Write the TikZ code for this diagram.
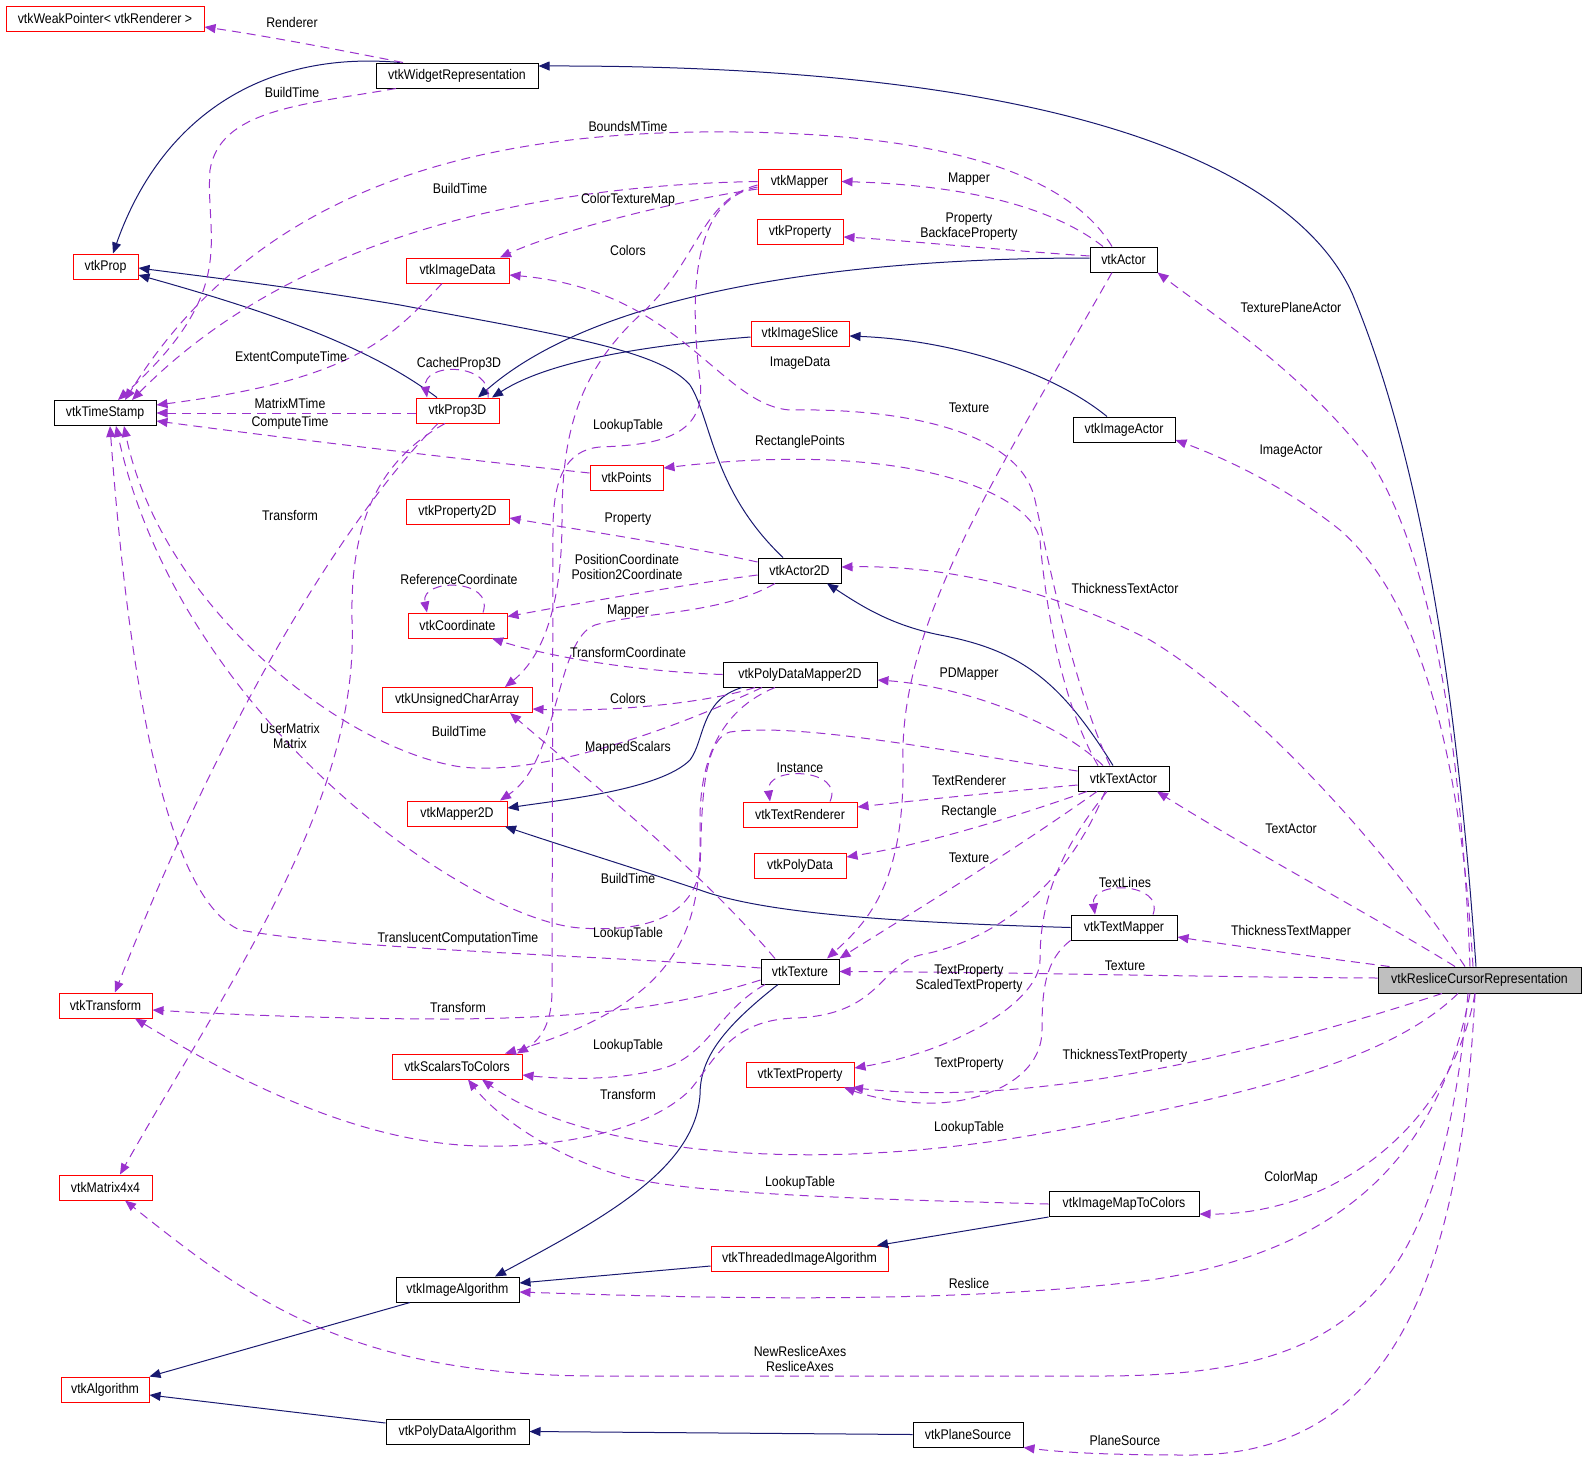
\documentclass[tikz,border=0pt]{standalone}
\usepackage{fontspec}
\setmainfont{Liberation Sans}[FakeStretch=0.88]
\usetikzlibrary{arrows.meta}
\definecolor{navy}{HTML}{191970}
\definecolor{usecol}{HTML}{9A32CD}
\definecolor{nodegray}{HTML}{BFBFBF}
\newcommand\dxfont{\fontsize{14pt}{15pt}\selectfont}
\begin{document}
\begin{tikzpicture}[x=1pt,y=-1pt,
  every node/.style={font=\dxfont},
  cls/.style={draw=black, fill=white, line width=1pt, inner sep=0pt, minimum height=25pt},
  redcls/.style={cls, draw=red},
  graycls/.style={cls, fill=nodegray, minimum height=26pt},
  inh/.style={draw=navy, line width=1pt, -{Triangle[length=11pt,width=9pt]}},
  use/.style={draw=usecol, line width=1pt, dash pattern=on 9pt off 6pt, -{Triangle[length=11pt,width=9pt]}},
  lbl/.style={inner sep=0pt, align=center}]
\useasboundingbox (0,0) rectangle (1587,1462);
% nodes
\node[redcls, minimum width=198pt] (wp) at (105,18.5) {vtkWeakPointer< vtkRenderer >};
\node[cls, minimum width=162pt] (wr) at (457,75.5) {vtkWidgetRepresentation};
\node[redcls, minimum width=65pt] (prop) at (105.5,266.5) {vtkProp};
\node[cls, minimum width=102pt] (ts) at (105,413) {vtkTimeStamp};
\node[redcls, minimum width=103pt] (imgdata) at (457.5,270.5) {vtkImageData};
\node[redcls, minimum width=83pt] (prop3d) at (457.5,410.5) {vtkProp3D};
\node[redcls, minimum width=83pt] (mapper) at (799.5,181.5) {vtkMapper};
\node[redcls, minimum width=86pt] (property) at (800,231.5) {vtkProperty};
\node[redcls, minimum width=98pt] (imgslice) at (800,333.5) {vtkImageSlice};
\node[redcls, minimum width=73pt] (points) at (626.5,477.5) {vtkPoints};
\node[cls, minimum width=67pt] (actor) at (1123.5,259.5) {vtkActor};
\node[cls, minimum width=102pt] (imgactor) at (1124,429.5) {vtkImageActor};
\node[redcls, minimum width=103pt] (prop2d) at (457.5,512) {vtkProperty2D};
\node[redcls, minimum width=99pt] (coord) at (457.5,625.5) {vtkCoordinate};
\node[cls, minimum width=83pt] (actor2d) at (799.5,570.5) {vtkActor2D};
\node[redcls, minimum width=150pt] (uca) at (457,700) {vtkUnsignedCharArray};
\node[cls, minimum width=154pt] (pdm2d) at (800,674.5) {vtkPolyDataMapper2D};
\node[redcls, minimum width=100pt] (mapper2d) at (457,813.5) {vtkMapper2D};
\node[redcls, minimum width=114pt] (textrend) at (800,814.5) {vtkTextRenderer};
\node[redcls, minimum width=92pt] (polydata) at (800,865.5) {vtkPolyData};
\node[cls, minimum width=91pt] (textactor) at (1123.5,778.5) {vtkTextActor};
\node[cls, minimum width=106pt] (textmapper) at (1124,927.5) {vtkTextMapper};
\node[cls, minimum width=78pt] (texture) at (800,971.5) {vtkTexture};
\node[graycls, minimum width=203pt] (reslice) at (1479.5,980) {vtkResliceCursorRepresentation};
\node[redcls, minimum width=93pt] (transform) at (105.5,1005.5) {vtkTransform};
\node[redcls, minimum width=93pt] (matrix) at (105.5,1187.5) {vtkMatrix4x4};
\node[redcls, minimum width=88pt] (algo) at (105,1389.5) {vtkAlgorithm};
\node[redcls, minimum width=130pt] (s2c) at (457,1066.5) {vtkScalarsToColors};
\node[redcls, minimum width=108pt] (textprop) at (800,1074.5) {vtkTextProperty};
\node[cls, minimum width=150pt] (imtc) at (1124,1204) {vtkImageMapToColors};
\node[redcls, minimum width=177pt] (threaded) at (799.5,1258.5) {vtkThreadedImageAlgorithm};
\node[cls, minimum width=123pt] (imgalgo) at (457.5,1289.5) {vtkImageAlgorithm};
\node[cls, minimum width=143pt] (pdalgo) at (457.5,1431.5) {vtkPolyDataAlgorithm};
\node[cls, minimum width=110pt] (planesrc) at (968,1434.5) {vtkPlaneSource};
% inheritance edges
\draw[inh] ([xshift=-57pt]wr.north) .. controls (260,50) and (160,120) .. ([xshift=7.5pt]prop.north);
\draw[inh] ([xshift=-3.5pt]reslice.north) .. controls (1460,740) and (1430,480) .. (1352,293) .. controls (1300,180) and (1100,65) .. ([yshift=9.5pt]wr.east);
\draw[inh] ([xshift=-20.5pt]prop3d.north) .. controls (380,355) and (300,320) .. ([yshift=-8.5pt]prop.east);
\draw[inh] ([xshift=-16.5pt]actor2d.north) .. controls (712,490) and (712,420) .. (690,385) .. controls (660,350) and (560,335) .. (400,305) .. controls (300,288) and (200,276) .. ([yshift=-1.5pt]prop.east);
\draw[inh] ([yshift=1.5pt]actor.west) .. controls (850,258) and (600,290) .. ([xshift=20.5pt]prop3d.north);
\draw[inh] ([yshift=-3.5pt]imgslice.west) .. controls (650,345) and (550,360) .. ([xshift=34.5pt]prop3d.north);
\draw[inh] ([xshift=-17pt]imgactor.north) .. controls (1050,370) and (950,340) .. ([yshift=-2.5pt]imgslice.east);
\draw[inh] ([xshift=-10.5pt]textactor.north) .. controls (1060,680) and (1020,650) .. (940,635) .. controls (890,625) and (860,605) .. ([xshift=27.5pt]actor2d.south);
\draw[inh] ([xshift=-58pt]pdm2d.south) .. controls (700,700) and (705,740) .. (690,760) .. controls (660,790) and (560,800) .. ([yshift=5.5pt]mapper2d.east);
\draw[inh] (textmapper.west) .. controls (880,922) and (760,912) .. (700,890) .. controls (640,870) and (560,845) .. ([xshift=48pt]mapper2d.south);
\draw[inh] ([xshift=-22pt]texture.south) .. controls (720,1030) and (700,1060) .. (700,1095) .. controls (695,1170) and (600,1220) .. ([xshift=37.5pt]imgalgo.north);
\draw[inh] ([yshift=-7.5pt]threaded.west) -- ([yshift=6.5pt]imgalgo.east);
\draw[inh] (imtc.south west) -- ([xshift=77.5pt]threaded.north);
\draw[inh] ([xshift=-47.5pt]imgalgo.south) -- (algo.north east);
\draw[inh] ([yshift=8.5pt]pdalgo.west) -- ([yshift=-5.5pt]algo.east);
\draw[inh] (planesrc.west) -- (pdalgo.east);
% usage edges
\draw[use] ([xshift=-54pt]wr.north) .. controls (330,48) and (260,35) .. ([yshift=-8.5pt]wp.east);
\draw[use] ([xshift=-61pt]wr.south) .. controls (300,105) and (220,110) .. (210,170) .. controls (205,240) and (240,290) .. ([xshift=13pt]ts.north);
\draw[use] ([xshift=-11.5pt]actor.north) .. controls (1060,160) and (900,130) .. (700,132) .. controls (450,135) and (250,200) .. ([xshift=20pt]ts.north);
\draw[use] (mapper.west) .. controls (550,185) and (300,230) .. ([xshift=27pt]ts.north);
\draw[use] ([yshift=-7.5pt]mapper.west) .. controls (680,200) and (560,230) .. ([xshift=42.5pt]imgdata.north);
\draw[use] ([yshift=-3.5pt]mapper.west) .. controls (700,200) and (700,260) .. (640,315) .. controls (575,375) and (562,440) .. (562,520) .. controls (562,600) and (545,655) .. ([xshift=48pt]uca.north);
\draw[use] ([yshift=-5.5pt]mapper.west) .. controls (690,200) and (690,300) .. (700,380) .. controls (708,440) and (650,445) .. (600,447) .. controls (565,450) and (553,480) .. (553,530) -- (552,990) .. controls (552,1025) and (540,1040) .. ([xshift=60pt]s2c.north);
\draw[use] ([xshift=-20.5pt]actor.north) .. controls (1050,205) and (960,185) .. (mapper.east);
\draw[use] ([yshift=3.5pt]actor.west) .. controls (1000,250) and (900,240) .. ([yshift=-5.5pt]property.east);
\draw[use] ([xshift=-11.5pt]actor.south) .. controls (1000,470) and (900,620) .. (903,760) .. controls (905,880) and (870,920) .. ([xshift=27pt]texture.north);
\draw[use] ([xshift=-15.5pt]imgdata.south) .. controls (390,340) and (350,380) .. ([yshift=8pt]ts.east);
\draw[use] ([yshift=-2.5pt]prop3d.west) -- (ts.east);
\draw[use] ([yshift=4.5pt]points.west) .. controls (450,458) and (300,440) .. ([yshift=-8pt]ts.east);
\draw[use] ([xshift=-19.5pt]prop3d.south) .. controls (380,480) and (250,650) .. ([xshift=9.5pt]transform.north);
\draw[use] ([xshift=-12.5pt]prop3d.south) .. controls (380,460) and (350,520) .. (352,620) .. controls (360,800) and (230,980) .. ([xshift=14.5pt]matrix.north);
\draw[use] ([xshift=30.5pt]prop3d.north) .. controls (492,362) and (422,362) .. ([xshift=-30.5pt]prop3d.north);
\draw[use] ([yshift=8.5pt]actor2d.west) .. controls (680,545) and (580,530) .. ([yshift=-6pt]prop2d.east);
\draw[use] ([yshift=-4.5pt]actor2d.west) .. controls (680,585) and (570,605) .. ([yshift=9pt]coord.east);
\draw[use] ([xshift=25.5pt]coord.north) .. controls (495,578) and (420,578) .. ([xshift=-30.5pt]coord.north);
\draw[use] ([xshift=-24.5pt]actor2d.south) .. controls (720,615) and (640,612) .. (595,625) .. controls (555,640) and (560,760) .. ([xshift=43pt]mapper2d.north);
\draw[use] (pdm2d.west) .. controls (650,672) and (560,660) .. ([xshift=34.5pt]coord.south);
\draw[use] ([xshift=-45pt]pdm2d.south) .. controls (700,705) and (600,712) .. ([yshift=-9pt]uca.east);
\draw[use] ([xshift=-38pt]pdm2d.south) .. controls (650,740) and (520,780) .. (450,765) .. controls (330,740) and (160,600) .. ([xshift=19pt]ts.south);
\draw[use] ([xshift=-25pt]pdm2d.south) .. controls (720,710) and (700,760) .. (700,820) .. controls (702,920) and (690,1000) .. ([xshift=48pt]s2c.north);
\draw[use] ([xshift=-25pt]texture.north) .. controls (700,870) and (600,790) .. ([xshift=53pt]uca.south);
\draw[use] ([xshift=-20.5pt]textactor.north) .. controls (1050,715) and (950,685) .. ([yshift=-5.5pt]pdm2d.east);
\draw[use] ([xshift=-25.5pt]textactor.north) .. controls (1060,700) and (1045,600) .. (1040,540) .. controls (1030,490) and (900,440) .. ([yshift=9.5pt]points.east);
\draw[use] ([xshift=-13.5pt]textactor.north) .. controls (1075,690) and (1050,570) .. (1035,500) .. controls (1020,430) and (900,408) .. (790,410) .. controls (720,405) and (680,290) .. ([yshift=-4.5pt]imgdata.east);
\draw[use] ([yshift=-6.5pt]textactor.west) .. controls (1000,792) and (920,800) .. ([yshift=7.5pt]textrend.east);
\draw[use] ([xshift=30pt]textrend.north) .. controls (845,768) and (765,765) .. ([xshift=-30pt]textrend.north);
\draw[use] ([xshift=-36.5pt]textactor.south) .. controls (1000,822) and (920,845) .. ([yshift=8.5pt]polydata.east);
\draw[use] ([xshift=-26.5pt]textactor.south) .. controls (1000,860) and (900,920) .. (texture.north east);
\draw[use] ([yshift=7.5pt]textactor.west) .. controls (950,752) and (800,722) .. (730,732) .. controls (700,740) and (702,820) .. (700,870) .. controls (690,920) and (640,932) .. (580,928) .. controls (470,920) and (180,720) .. ([xshift=11pt]ts.south);
\draw[use] ([yshift=3.5pt]texture.west) .. controls (600,955) and (350,950) .. (240,930) .. controls (170,900) and (130,700) .. ([xshift=5pt]ts.south);
\draw[use] ([xshift=29pt]textmapper.north) .. controls (1165,882) and (1090,880) .. ([xshift=-29pt]textmapper.north);
\draw[use] ([xshift=-16.5pt]textactor.south) .. controls (1060,850) and (1040,900) .. (1040,960) .. controls (1040,1000) and (960,1050) .. ([yshift=6.5pt]textprop.east);
\draw[use] (textmapper.south west) .. controls (1045,960) and (1042,990) .. (1042,1030) .. controls (1042,1080) and (980,1105) .. (923,1103) .. controls (890,1102) and (865,1095) .. ([xshift=44pt]textprop.south);
\draw[use] ([xshift=-18.5pt]textactor.south) .. controls (1070,880) and (1000,940) .. (920,955) .. controls (880,965) and (880,1015) .. (795,1018) .. controls (730,1020) and (715,1060) .. (690,1090) .. controls (650,1130) and (560,1148) .. (480,1146) .. controls (350,1143) and (220,1070) .. ([xshift=29.5pt]transform.south);
\draw[use] ([yshift=-8.5pt]texture.west) .. controls (680,1005) and (600,1018) .. (450,1019) .. controls (330,1019) and (220,1014) .. ([yshift=-4.5pt]transform.east);
\draw[use] ([xshift=-35pt]texture.south) .. controls (720,1010) and (710,1050) .. (670,1066) .. controls (630,1080) and (570,1080) .. ([yshift=-8.5pt]s2c.east);
\draw[use] ([xshift=-9.5pt]reslice.north) .. controls (1462,760) and (1435,560) .. (1370,460) .. controls (1300,370) and (1220,320) .. (actor.south east);
\draw[use] ([xshift=-6.5pt]reslice.north) .. controls (1460,750) and (1420,600) .. (1340,530) .. controls (1290,490) and (1230,460) .. ([yshift=-10.5pt]imgactor.east);
\draw[use] ([xshift=-14.5pt]reslice.north) .. controls (1380,840) and (1250,700) .. (1150,640) .. controls (1050,590) and (950,565) .. ([yshift=3.5pt]actor2d.east);
\draw[use] ([xshift=-24.5pt]reslice.north) .. controls (1380,920) and (1250,850) .. ([xshift=33.5pt]textactor.south);
\draw[use] ([xshift=12pt]reslice.north west) .. controls (1300,955) and (1230,945) .. ([yshift=-9.5pt]textmapper.east);
\draw[use] ([yshift=2pt]reslice.west) .. controls (1200,977) and (1000,972) .. (texture.east);
\draw[use] ([xshift=-37.5pt]reslice.south) .. controls (1300,1040) and (1050,1110) .. ([xshift=52pt]textprop.south);
\draw[use] ([xshift=-21.5pt]reslice.south) .. controls (1390,1060) and (1250,1095) .. (1050,1132) .. controls (800,1178) and (580,1150) .. ([xshift=25pt]s2c.south);
\draw[use] (imtc.west) .. controls (900,1200) and (700,1195) .. (630,1178) .. controls (560,1160) and (500,1120) .. ([xshift=11pt]s2c.south);
\draw[use] ([xshift=-4.5pt]reslice.south) .. controls (1450,1130) and (1330,1215) .. ([yshift=-10pt]imtc.east);
\draw[use] ([xshift=-9.5pt]reslice.south) .. controls (1440,1150) and (1350,1250) .. (1150,1280) .. controls (950,1305) and (700,1298) .. ([yshift=-2.5pt]imgalgo.east);
\draw[use] ([xshift=-11.5pt]reslice.south) .. controls (1440,1300) and (1350,1376) .. (1100,1376) -- (600,1376) .. controls (350,1376) and (250,1300) .. ([xshift=19.5pt]matrix.south);
\draw[use] ([xshift=-4.5pt]reslice.south) .. controls (1460,1300) and (1380,1455) .. (1190,1455) .. controls (1100,1455) and (1060,1452) .. (planesrc.south east);
% labels
\node[lbl] (l01) at (292,22) {Renderer};
\node[lbl] (l02) at (292,92) {BuildTime};
\node[lbl] (l03) at (628,126) {BoundsMTime};
\node[lbl] (l04) at (460,188) {BuildTime};
\node[lbl] (l05) at (628,200) {ColorTextureMap};
\node[lbl] (l06) at (969,179) {Mapper};
\node[lbl] (l07) at (969,227) {Property\\BackfaceProperty};
\node[lbl] (l08) at (628,250) {Colors};
\node[lbl] (l09) at (1291,307) {TexturePlaneActor};
\node[lbl] (l10) at (291,358) {ExtentComputeTime};
\node[lbl] (l11) at (459,364) {CachedProp3D};
\node[lbl] (l12) at (800,363) {ImageData};
\node[lbl] (l13) at (290,403) {MatrixMTime};
\node[lbl] (l14) at (290,423) {ComputeTime};
\node[lbl] (l15) at (969,408) {Texture};
\node[lbl] (l16) at (628,426) {LookupTable};
\node[lbl] (l17) at (800,442) {RectanglePoints};
\node[lbl] (l18) at (1291,451) {ImageActor};
\node[lbl] (l19) at (290,515) {Transform};
\node[lbl] (l20) at (628,519) {Property};
\node[lbl] (l21) at (627,567) {PositionCoordinate\\Position2Coordinate};
\node[lbl] (l22) at (459,579) {ReferenceCoordinate};
\node[lbl] (l23) at (1125,588) {ThicknessTextActor};
\node[lbl] (l24) at (628,611) {Mapper};
\node[lbl] (l25) at (628,652) {TransformCoordinate};
\node[lbl] (l26) at (969,674) {PDMapper};
\node[lbl] (l27) at (628,698) {Colors};
\node[lbl] (l28) at (290,736) {UserMatrix\\Matrix};
\node[lbl] (l29) at (459,731) {BuildTime};
\node[lbl] (l30) at (628,748) {MappedScalars};
\node[lbl] (l31) at (800,768) {Instance};
\node[lbl] (l32) at (969,780) {TextRenderer};
\node[lbl] (l33) at (969,812) {Rectangle};
\node[lbl] (l34) at (1291,829) {TextActor};
\node[lbl] (l35) at (969,858) {Texture};
\node[lbl] (l36) at (628,878) {BuildTime};
\node[lbl] (l37) at (1125,882) {TextLines};
\node[lbl] (l38) at (1291,932) {ThicknessTextMapper};
\node[lbl] (l39) at (628,934) {LookupTable};
\node[lbl] (l40) at (458,939) {TranslucentComputationTime};
\node[lbl] (l41) at (969,979) {TextProperty\\ScaledTextProperty};
\node[lbl] (l42) at (1125,966) {Texture};
\node[lbl] (l43) at (458,1007) {Transform};
\node[lbl] (l44) at (628,1046) {LookupTable};
\node[lbl] (l45) at (969,1064) {TextProperty};
\node[lbl] (l46) at (1125,1056) {ThicknessTextProperty};
\node[lbl] (l47) at (628,1094) {Transform};
\node[lbl] (l48) at (969,1128) {LookupTable};
\node[lbl] (l49) at (1291,1178) {ColorMap};
\node[lbl] (l50) at (800,1183) {LookupTable};
\node[lbl] (l51) at (969,1283) {Reslice};
\node[lbl] (l52) at (800,1359) {NewResliceAxes\\ResliceAxes};
\node[lbl] (l53) at (1125,1440) {PlaneSource};
\end{tikzpicture}
\end{document}
